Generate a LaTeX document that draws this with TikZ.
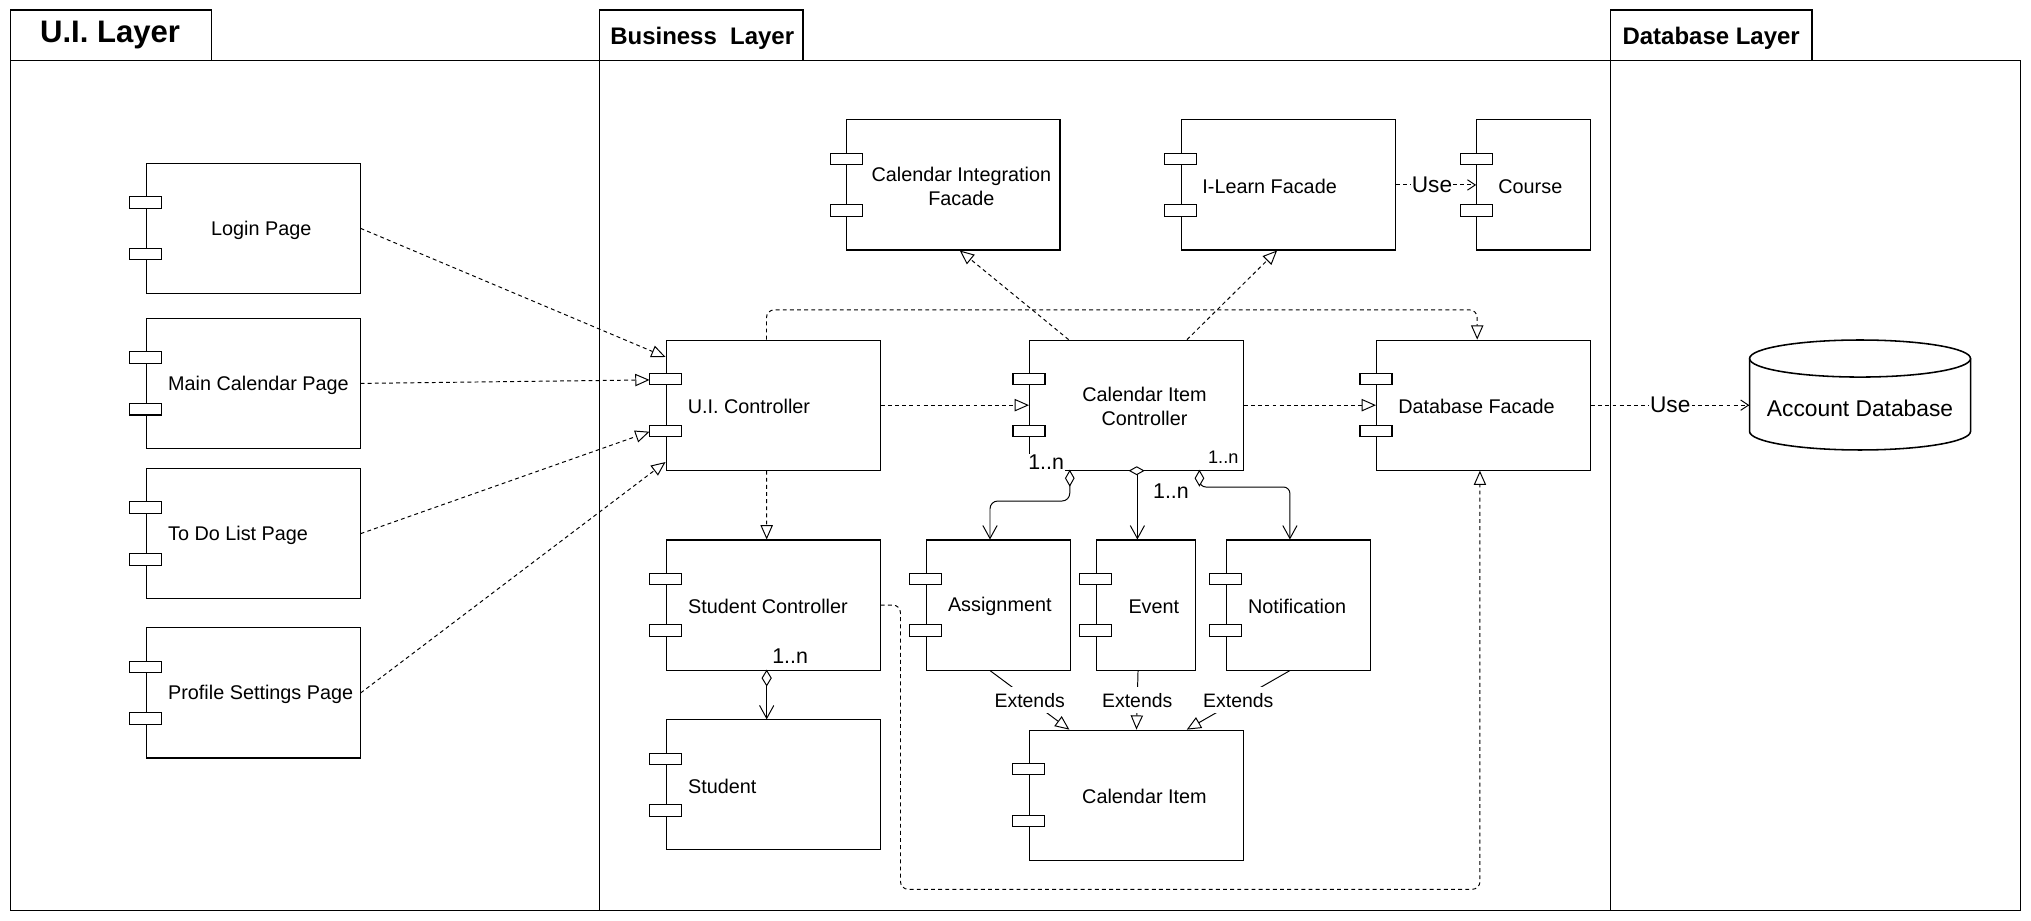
\documentclass[tikz,border=0pt]{standalone}
\usepackage{fontspec}
\setmainfont{Liberation Sans}
\usetikzlibrary{arrows.meta,calc}
\newcommand{\compports}[1]{%
  \draw[port] ($(#1.north west)+(-12.35,26)$) rectangle ++(24.7,9);
  \draw[port] ($(#1.north west)+(-12.35,66)$) rectangle ++(24.7,9);}
\begin{document}
\begin{tikzpicture}[x=1pt,y=-1pt,
  frame/.style={draw, line width=1.1pt},
  comp/.style={draw, rectangle, line width=0.8pt, minimum height=100.4pt, inner sep=0pt, fill=white},
  port/.style={draw, fill=white, line width=0.8pt},
  ctext/.style={font=\fontsize{15.3}{18.5}\selectfont, inner sep=0pt, align=center, yshift=-1.2pt},
  dep/.style={line width=0.75pt, dash pattern=on 3pt off 2.5pt,
     -{Triangle[length=11pt,width=9.5pt,fill=white,line width=0.75pt]}},
  ext/.style={line width=0.75pt, -{Triangle[length=11pt,width=9.5pt,fill=white,line width=0.75pt]}},
  use/.style={line width=0.75pt, dash pattern=on 3pt off 2.5pt,
     -{Straight Barb[length=6pt,width=8pt,line width=0.75pt]}},
  agg/.style={line width=0.75pt, -{Straight Barb[length=10pt,width=11pt,line width=0.75pt]}},
  diam/.style={draw, fill=white, line width=0.75pt},
  uselabel/.style={fill=white, inner sep=1pt, font=\fontsize{17.5}{20}\selectfont},
  extlabel/.style={fill=white, inner xsep=1pt, inner ysep=4.5pt, font=\fontsize{15}{18}\selectfont},
  mult/.style={fill=white, inner sep=1pt, font=\fontsize{16.5}{19}\selectfont},
  ttl/.style={inner sep=0pt, font=\bfseries\fontsize{18.5}{22}\selectfont}
]
\useasboundingbox (0,0) rectangle (1568,711);
% layer frames
\draw[frame] (8.2,46.5) rectangle (463,703);
\draw[frame] (8.2,7.7) rectangle (163.5,46.5);
\draw[frame] (463,46.5) rectangle (1243.5,703);
\draw[frame] (463,7.7) rectangle (620,46.5);
\draw[frame] (1243.5,46.5) rectangle (1560,703);
\draw[frame] (1243.5,7.7) rectangle (1399,46.5);
\node[inner sep=0pt, anchor=base, font=\bfseries\fontsize{24}{28}\selectfont] (tui) at (85,33) {U.I. Layer};
\node[ttl, anchor=base west] (tbl) at (471,34.5) {Business~~Layer};
\node[ttl, anchor=base west] (tdl) at (1252.5,34.5) {Database Layer};

% components
\node[comp, minimum width=165pt] (login) at (195.5,176.3) {};
\node[comp, minimum width=165pt] (maincal) at (195.5,296) {};
\node[comp, minimum width=165pt] (todo) at (195.5,412) {};
\node[comp, minimum width=165pt] (profile) at (195.5,535) {};
\node[comp, minimum width=164.7pt] (cif) at (736,142.8) {};
\node[comp, minimum width=165.3pt] (ilearn) at (994.65,142.8) {};
\node[comp, minimum width=88pt] (course) at (1184,142.8) {};
\node[comp, minimum width=165.5pt] (uic) at (596.95,312.8) {};
\node[comp, minimum width=165.2pt] (cic) at (877.4,312.8) {};
\node[comp, minimum width=165.3pt] (dbf) at (1145.35,312.8) {};
\node[comp, minimum width=165.2pt] (stc) at (597,467.1) {};
\node[comp, minimum width=165.2pt] (student) at (597,606) {};
\node[comp, minimum width=111.2pt] (assign) at (770.7,467.1) {};
\node[comp, minimum width=76.4pt] (event) at (884.6,467.1) {};
\node[comp, minimum width=111.1pt] (notif) at (1002.35,467.1) {};
\node[comp, minimum width=165.3pt] (calitem) at (877.35,613.9) {};
\foreach \n in {login,maincal,todo,profile,cif,ilearn,course,uic,cic,dbf,stc,student,assign,event,notif,calitem}{\compports{\n}}

% texts
\node[ctext] at ($(login.center)+(6.2,0)$) {Login Page};
\node[ctext, anchor=west] at ($(maincal.west)+(17,0)$) {Main Calendar Page};
\node[ctext, anchor=west] at ($(todo.west)+(17,0)$) {To Do List Page};
\node[ctext, anchor=west] at ($(profile.west)+(17,0)$) {Profile Settings Page};
\node[ctext] at ($(cif.center)+(6.2,0)$) {Calendar Integration\\Facade};
\node[ctext, anchor=west] at ($(ilearn.west)+(16.5,0)$) {I-Learn Facade};
\node[ctext, anchor=west] at ($(course.west)+(17,0)$) {Course};
\node[ctext, anchor=west] at ($(uic.west)+(17,0)$) {U.I. Controller};
\node[ctext] at ($(cic.center)+(6.2,-0.5)$) {Calendar Item\\Controller};
\node[ctext, anchor=west] at ($(dbf.west)+(17,0)$) {Database Facade};
\node[ctext, anchor=west] at ($(stc.west)+(17,0)$) {Student Controller};
\node[ctext, anchor=west] at ($(student.west)+(17,0)$) {Student};
\node[ctext, anchor=west] at ($(assign.west)+(17,0)$) {Assignment};
\node[ctext] at ($(event.center)+(6.2,0)$) {Event};
\node[ctext, anchor=west] at ($(notif.west)+(17,0)$) {Notification};
\node[ctext] at ($(calitem.center)+(6.2,0)$) {Calendar Item};

% database cylinder
\node[minimum width=170.6pt, minimum height=84.9pt, inner sep=0pt] (db) at (1436,304.95) {};
\draw[line width=1.2pt] (1436,276.8) ellipse [x radius=85.3, y radius=14.3];
\draw[line width=1.2pt] (1350.7,276.8) -- (1350.7,333.1)
   arc[start angle=180, end angle=0, x radius=85.3, y radius=14.3] -- (1521.3,276.8);
\node[inner sep=0pt, font=\fontsize{17.6}{20}\selectfont] at ($(db.center)+(0,10.5)$) {Account Database};

% dependencies from UI pages
\draw[dep] (login.east) -- ($(uic.north west)+(0,13.4)$);
\draw[dep] (maincal.east) -- ($(uic.west)+(-12.35,-19.5)$);
\draw[dep] (todo.east) -- ($(uic.west)+(-12.35,20.5)$);
\draw[dep] (profile.east) -- ($(uic.south west)+(0,-6.7)$);
% business dependencies
\draw[dep] (uic.east) -- (cic.west);
\draw[dep] (cic.east) -- (dbf.west);
\draw[dep, rounded corners=6pt] ($(uic.north)+(-5.2,0)$) |- ($(dbf.north)+(-4.9,-23)$) -- ($(dbf.north)+(-4.9,0)$);
\draw[dep, rounded corners=6pt] (stc.east) -| ($(stc.east)+(15.2,219.5)$) -| ($(dbf.south)+(-2.8,0)$);
\draw[dep] ($(uic.south)+(-5.1,0)$) -- ($(stc.north)+(-5.1,0)$);
\draw[dep] ($(cic.north)+(-52.4,0)$) -- ($(cif.south)+(5,0)$);
\draw[dep] ($(cic.north)+(39,0)$) -- ($(ilearn.south)+(-8.7,0)$);
% use
\draw[use] (ilearn.east) -- node[uselabel, pos=0.45] {Use} (course.west);
\draw[use] (dbf.east) -- node[uselabel] {Use} (dbf.east -| db.west);

% aggregations
\draw[agg, rounded corners=6pt] ($(cic.south west)+(31.5,0)$) -- ++(0,23.4) -| ($(assign.north)+(-6.4,0)$);
\coordinate (ev) at ($(event.north)+(-6.5,0)$);
\draw[agg] (ev |- cic.south) -- (ev);
\draw[agg, rounded corners=5pt] ($(cic.south west)+(131.6,0)$) -- ++(0,12.6) -| ($(notif.north)+(-6.5,0)$);
\draw[diam] ($(cic.south west)+(31.5,0)$) -- ++(3.3,5.8) -- ++(-3.3,5.8) -- ++(-3.3,-5.8) -- cycle;
\draw[diam] ($(cic.south west)+(131.6,0)$) -- ++(3.3,5.8) -- ++(-3.3,5.8) -- ++(-3.3,-5.8) -- cycle;
\draw[diam] ($(cic.south)+(-5.25,0)$) -- ++(5.4,-3) -- ++(5.4,3) -- ++(-5.4,3) -- cycle;
\coordinate (sx) at ($(stc.south)+(-5.1,0)$);
\draw[agg] (sx) -- (sx |- student.north);
\draw[diam] (sx) -- ++(3.5,5.8) -- ++(-3.5,5.8) -- ++(-3.5,-5.8) -- cycle;

% extends
\draw[ext] ($(assign.south)+(-6.4,0)$) -- node[extlabel] {Extends} ($(calitem.north west)+(31.3,0)$);
\draw[ext] ($(event.south)+(-6,0)$) -- node[extlabel] {Extends} ($(calitem.north west)+(83.1,0)$);
\draw[ext] ($(notif.south)+(-6.5,0)$) -- node[extlabel] {Extends} ($(calitem.north west)+(121.9,0)$);

% multiplicities
\node[mult] at ($(cic.south west)+(13.2,-6.6)$) {1..n};
\node[fill=white, inner sep=1pt, font=\fontsize{14}{16}\selectfont] at ($(cic.south east)+(-16,-10)$) {1..n};
\node[mult] at ($(cic.south)+(26.6,16)$) {1..n};
\node[mult] at ($(stc.south)+(13,-11)$) {1..n};
\end{tikzpicture}
\end{document}
